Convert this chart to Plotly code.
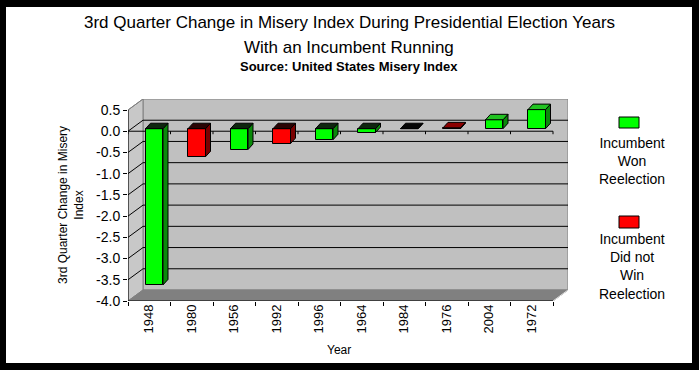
import plotly.graph_objects as go

# ---------------- data ----------------
years = ["1948", "1980", "1956", "1992", "1996", "1964", "1984", "1976", "2004", "1972"]
change = [-3.68, -0.66, -0.49, -0.35, -0.26, -0.09, 0.0, 0.02, 0.21, 0.45]
won = [True, False, True, False, True, True, True, False, True, True]
y_ticks = [-4.0, -3.5, -3.0, -2.5, -2.0, -1.5, -1.0, -0.5, 0.0, 0.5]
y_tick_text = ["-4.0", "-3.5", "-3.0", "-2.5", "-2.0", "-1.5", "-1.0", "-0.5", "0.0", "0.5"]

title1 = "3rd Quarter Change in Misery Index During Presidential Election Years"
title2 = "With an Incumbent Running"
subtitle = "Source: United States Misery Index"
legend_won = "Incumbent<br>Won<br>Reelection"
legend_lost = "Incumbent<br>Did not<br>Win<br>Reelection"

# ---------------- geometry ----------------
W_FIG, H_FIG = 699, 370
L, R, T, B = 128, 131, 99, 69
PW = W_FIG - L - R
PH = H_FIG - T - B
n = len(years)
X_PX = PW / (n + 15 / 42.5)          # px per category unit
X_MIN, X_MAX = -0.5, n - 0.5 + 15 / X_PX
DX = 15 / X_PX
Y_MIN, Y_TOP = -4.0, 0.5
Y_PX = (PH - 11) / (Y_TOP - Y_MIN)
DY = 11 / Y_PX
Y_MAX = Y_TOP + DY

FX, FY = 5 / X_PX, 2.5 / Y_PX       # bar front offset into depth
BX, BY = 5 / X_PX, 5.5 / Y_PX       # bar depth
BW = 17.5 / X_PX                    # bar width


def px(x):
    return (x - L) / PW


def py(y):
    return (H_FIG - B - y) / PH


FONT = "Liberation Sans, Arial, sans-serif"

fig = go.Figure()

# front faces
front_cols = ["#00FF00" if w else "#FF0000" for w in won]
fig.add_trace(go.Bar(
    x=list(range(n)), y=change, base=FY, width=BW, offset=-BW / 2 + FX,
    marker=dict(color=front_cols, line=dict(color="black", width=1)),
    hoverinfo="skip", showlegend=False))

# side and top faces
for i, (v, w) in enumerate(zip(change, won)):
    x0 = i - BW / 2 + FX
    x1 = x0 + BW
    side_col = "#0A8A0A" if w else "#7A0000"
    fig.add_trace(go.Scatter(
        x=[x1, x1, x1 + BX, x1 + BX, x1], y=[FY, FY + v, FY + v + BY, FY + BY, FY],
        mode="lines", fill="toself", fillcolor=side_col,
        line=dict(color="black", width=1), hoverinfo="skip", showlegend=False))
    yt = FY + max(v, 0)
    if v > 0.005:
        top_col = "#22C322" if w else "#8A0000"
    elif v < -0.005:
        top_col = "#0E260E" if w else "#2A0404"
    else:
        top_col = "#050505"
    fig.add_trace(go.Scatter(
        x=[x0, x1, x1 + BX, x0 + BX, x0], y=[yt, yt, yt + BY, yt + BY, yt],
        mode="lines", fill="toself", fillcolor=top_col,
        line=dict(color="black", width=1), hoverinfo="skip", showlegend=False))

shapes = []
# white chart area over black frame
shapes.append(dict(type="rect", xref="paper", yref="paper", layer="below",
                   x0=px(6), x1=px(692), y0=py(363), y1=py(7),
                   fillcolor="white", line=dict(width=0)))
# back wall
shapes.append(dict(type="rect", xref="x", yref="y", layer="below",
                   x0=X_MIN + DX, x1=X_MAX, y0=Y_MIN + DY, y1=Y_MAX,
                   fillcolor="#C0C0C0", line=dict(color="#808080", width=1)))
# left wall
shapes.append(dict(type="path", xref="x", yref="y", layer="below",
                   path=f"M {X_MIN},{Y_MIN} L {X_MIN},{Y_TOP} L {X_MIN+DX},{Y_MAX} L {X_MIN+DX},{Y_MIN+DY} Z",
                   fillcolor="#C8C8C8", line=dict(color="#808080", width=1)))
# floor
shapes.append(dict(type="path", xref="x", yref="y", layer="below",
                   path=f"M {X_MIN},{Y_MIN} L {n-0.5},{Y_MIN} L {X_MAX},{Y_MIN+DY} L {X_MIN+DX},{Y_MIN+DY} Z",
                   fillcolor="#808080", line=dict(color="#808080", width=1)))
# gridlines on back and side walls
for v in y_ticks[1:]:
    col = "#808080" if v == Y_TOP else "black"
    if v != Y_TOP:
        shapes.append(dict(type="line", xref="x", yref="y", layer="below",
                           x0=X_MIN + DX, x1=X_MAX, y0=v + DY, y1=v + DY,
                           line=dict(color="black", width=1)))
    shapes.append(dict(type="line", xref="x", yref="y", layer="below",
                       x0=X_MIN, x1=X_MIN + DX, y0=v, y1=v + DY,
                       line=dict(color=col, width=1)))
# front floor edge light
shapes.append(dict(type="line", xref="x", yref="y", layer="below",
                   x0=n - 0.5, x1=X_MAX, y0=Y_MIN, y1=Y_MIN + DY,
                   line=dict(color="#E0E0E0", width=1)))
# zero category axis line with ticks
shapes.append(dict(type="line", xref="x", yref="y", layer="below",
                   x0=X_MIN, x1=n - 0.5, y0=0, y1=0, line=dict(color="black", width=1)))
for k in range(n + 1):
    shapes.append(dict(type="line", xref="x", yref="y", layer="below",
                       x0=k - 0.5, x1=k - 0.5, y0=0, y1=-3 / Y_PX,
                       line=dict(color="black", width=1)))
# front axes lines
shapes.append(dict(type="line", xref="x", yref="y", layer="above",
                   x0=X_MIN, x1=X_MIN, y0=Y_MIN, y1=Y_TOP, line=dict(color="black", width=1)))
shapes.append(dict(type="line", xref="x", yref="y", layer="above",
                   x0=X_MIN, x1=n - 0.5, y0=Y_MIN, y1=Y_MIN, line=dict(color="black", width=1)))
# legend swatches
shapes.append(dict(type="rect", xref="paper", yref="paper", x0=px(619), x1=px(639),
                   y0=py(128), y1=py(117), fillcolor="#00FF00", line=dict(color="black", width=1)))
shapes.append(dict(type="rect", xref="paper", yref="paper", x0=px(619), x1=px(639),
                   y0=py(228), y1=py(216), fillcolor="#FF0000", line=dict(color="black", width=1)))

ann = []
ann.append(dict(text=title1, x=px(349), y=py(22), xref="paper", yref="paper", showarrow=False,
                font=dict(family=FONT, size=17, color="black"), xanchor="center", yanchor="middle"))
ann.append(dict(text=title2, x=px(349), y=py(47), xref="paper", yref="paper", showarrow=False,
                font=dict(family=FONT, size=17, color="black"), xanchor="center", yanchor="middle"))
ann.append(dict(text="<b>" + subtitle + "</b>", x=px(349), y=py(66), xref="paper", yref="paper",
                showarrow=False, font=dict(family=FONT, size=13, color="black"),
                xanchor="center", yanchor="middle"))
ann.append(dict(text="3rd Quarter Change in Misery<br>Index", x=px(71), y=py(205),
                xref="paper", yref="paper", showarrow=False, textangle=-90,
                font=dict(family=FONT, size=12, color="black"), xanchor="center", yanchor="middle"))
ann.append(dict(text="Year", x=px(339), y=py(350), xref="paper", yref="paper", showarrow=False,
                font=dict(family=FONT, size=12, color="black"), xanchor="center", yanchor="middle"))
ann.append(dict(text=legend_won, x=px(632), y=py(161), xref="paper", yref="paper", showarrow=False,
                font=dict(family=FONT, size=14, color="black"), xanchor="center", yanchor="middle"))
ann.append(dict(text=legend_lost, x=px(632), y=py(266), xref="paper", yref="paper", showarrow=False,
                font=dict(family=FONT, size=14, color="black"), xanchor="center", yanchor="middle"))

fig.update_layout(
    width=W_FIG, height=H_FIG,
    margin=dict(l=L, r=R, t=T, b=B, pad=0),
    paper_bgcolor="black", plot_bgcolor="rgba(0,0,0,0)",
    shapes=shapes, annotations=ann, showlegend=False, bargap=0,
    xaxis=dict(range=[X_MIN, X_MAX], tickvals=list(range(n)), ticktext=years, tickangle=-90,
               ticks="", showgrid=False, zeroline=False, showline=False, fixedrange=True,
               tickfont=dict(family=FONT, size=13, color="black"),
               minor=dict(tick0=-0.5, dtick=1, ticks="outside", ticklen=4, tickcolor="black",
                          showgrid=False)),
    yaxis=dict(range=[Y_MIN, Y_MAX], tickvals=y_ticks, ticktext=y_tick_text, ticks="outside",
               ticklen=4, tickcolor="black", showgrid=False, zeroline=False, showline=False,
               fixedrange=True, tickfont=dict(family=FONT, size=14, color="black")),
)

fig.write_html(
    "out.html",
    config={"displayModeBar": False},
    post_script="document.body.style.margin='0';document.body.style.padding='0';"
                "document.body.style.background='black';document.body.style.overflow='hidden';",
)
